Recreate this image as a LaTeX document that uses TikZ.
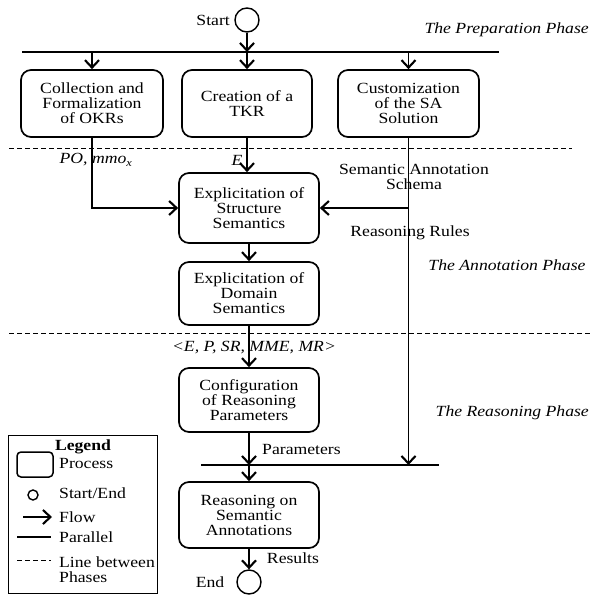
\documentclass[tikz,border=0pt]{standalone}
\usepackage{fontspec}
\setmainfont{Liberation Serif}[FakeStretch=1.14]
\usetikzlibrary{arrows.meta}
\begin{document}
\begin{tikzpicture}[x=1pt,y=-1pt,
  txt/.style={font=\fontsize{15.5}{15}\selectfont, inner sep=1pt, align=center},
  proc/.style={txt, draw, line width=1.7pt, rounded corners=10pt, minimum width=140pt},
  term/.style={draw, circle, line width=1.4pt, minimum size=24pt, inner sep=0pt},
  flow/.style={line width=1.1pt, -{Straight Barb[length=7.5pt,width=14pt,line width=2.1pt]}},
  bar/.style={line width=1.1pt},
  phaseline/.style={line width=0.8pt, dash pattern=on 5pt off 3pt},
  phase/.style={txt, font=\fontsize{15.5}{15}\selectfont\itshape}]
\useasboundingbox (0,0) rectangle (590,595);

% start
\node[term] (start) at (247,20) {};
\node[txt, anchor=east] (starttxt) at (231,20) {Start};
\node[phase, anchor=east] (p1) at (590,30) {The Preparation Phase};

% parallel bar 1
\coordinate (bar1l) at (22,52);
\coordinate (bar1r) at (499,52);
\draw[bar] (bar1l) -- (bar1r);
\draw[flow] (start) -- (start |- bar1l);

% preparation boxes
\node[proc, minimum width=142pt, minimum height=67pt] (b1) at (92,103.5) {Collection and\\Formalization\\of OKRs};
\node[proc, minimum width=130pt, minimum height=67pt] (b2) at (247,103.5) {Creation of a\\TKR};
\node[proc, minimum width=141pt, minimum height=67pt] (b3) at (408.5,103.5) {Customization\\of the SA\\Solution};
\draw[flow] (b1.north |- bar1l) -- (b1.north);
\draw[flow] (b2.north |- bar1l) -- (b2.north);
\draw[flow] (b3.north |- bar1l) -- (b3.north);

% dashed line 1
\coordinate (d1l) at (9,148);
\coordinate (d1r) at (572,148);
\draw[phaseline] (d1l) -- (d1r);

% annotation phase
\node[proc, minimum height=70pt] (b4) at (249,208) {Explicitation of\\Structure\\Semantics};
\node[proc, minimum height=63pt] (b5) at (249,293.5) {Explicitation of\\Domain\\Semantics};

\node[phase] (lpo) at (96,160) {PO, mmo\textsubscript{x}};
\node[phase] (le) at (237,160) {E};
\node[txt] (lsas) at (414,177) {Semantic Annotation\\Schema};
\node[txt] (lrr) at (410,233) {Reasoning Rules};
\node[phase] (p2) at (507,265) {The Annotation Phase};

\draw[flow] (b1.south) |- (b4.west);
\draw[flow] (b2.south) -- (b2.south |- b4.north);
\draw[flow] (b3.south |- b4.east) -- (b4.east);
\draw[flow] (b4) -- (b5);

% dashed line 2
\coordinate (d2l) at (9,333);
\coordinate (d2r) at (590,333);
\draw[phaseline] (d2l) -- (d2r);

% reasoning phase
\node[phase] (ltuple) at (254,348) {<E, P, SR, MME, MR>};
\node[proc, minimum height=64pt] (b6) at (249,400) {Configuration\\of Reasoning\\Parameters};
\node[phase, anchor=east] (p3) at (590,413) {The Reasoning Phase};
\draw[flow] (b5) -- (b6);

\coordinate (bar2l) at (201,465);
\coordinate (bar2r) at (439,465);
\draw[bar] (bar2l) -- (bar2r);
\draw[flow] (b6) -- (b6 |- bar2l);
\draw[flow] (b3.south) -- (b3.south |- bar2l);
\node[txt, anchor=west] (lparam) at (261,449) {Parameters};

\node[proc, minimum height=66pt] (b7) at (249,515) {Reasoning on\\Semantic\\Annotations};
\draw[flow] (b7.north |- bar2l) -- (b7.north);

\node[term] (end) at (249,582) {};
\node[txt] (endtxt) at (210,582) {End};
\draw[flow] (b7) -- (end);
\node[txt] (lres) at (293,558) {Results};

% legend
\node[draw, line width=0.8pt, minimum width=149pt, minimum height=158pt, inner sep=0pt] (legend) at (82.5,514) {};
\node[txt, font=\fontsize{15.5}{15}\selectfont\bfseries] (legtitle) at (83,447) {Legend};
\node[draw, line width=1.5pt, rounded corners=4pt, minimum width=36pt, minimum height=25pt, inner sep=0pt] (legproc) at (35,464.5) {};
\node[txt, anchor=west] (legproct) at (58,463) {Process};
\node[draw, circle, line width=1.4pt, minimum size=10pt, inner sep=0pt] (legcirc) at (33,495) {};
\node[txt, anchor=west] (legcirct) at (58,493) {Start/End};
\coordinate (legf1) at (23,517);
\coordinate (legf2) at (52,517);
\draw[flow] (legf1) -- (legf2);
\node[txt, anchor=west] (legflowt) at (58,517) {Flow};
\coordinate (legp1) at (17,537);
\coordinate (legp2) at (51,537);
\draw[line width=1.6pt] (legp1) -- (legp2);
\node[txt, anchor=west] (legpart) at (58,537) {Parallel};
\coordinate (legd1) at (17,560);
\coordinate (legd2) at (51,560);
\draw[phaseline] (legd1) -- (legd2);
\node[txt, anchor=west, align=left] (legdt) at (58,570) {Line between\\Phases};
\end{tikzpicture}
\end{document}
